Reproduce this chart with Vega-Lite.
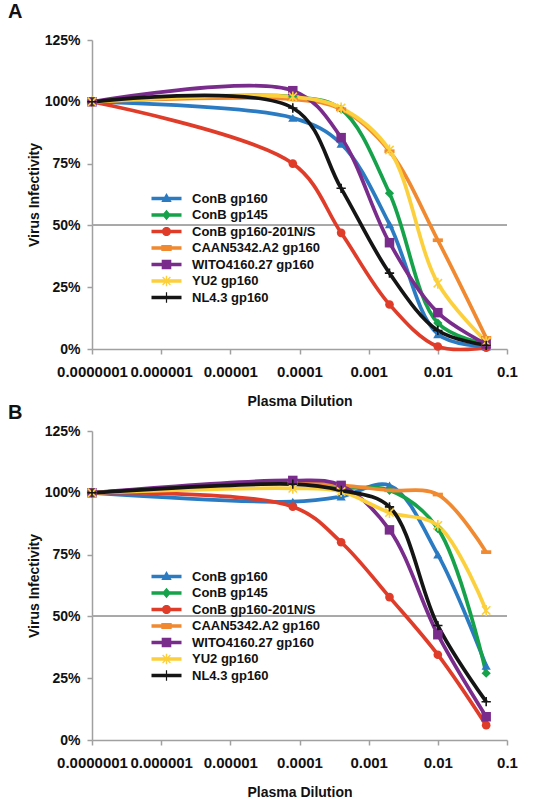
{
  "$schema": "https://vega.github.io/schema/vega-lite/v6.json",
  "background": "white",
  "padding": {"left": 8, "top": 2, "right": 5, "bottom": 2},
  "spacing": 82,
  "bounds": "flush",
  "datasets": {
    "A": [
      {"s": "ConB gp160", "d": 1e-7, "v": 100}, {"s": "ConB gp160", "d": 8e-5, "v": 93.5}, {"s": "ConB gp160", "d": 4e-4, "v": 83}, {"s": "ConB gp160", "d": 2e-3, "v": 50.5}, {"s": "ConB gp160", "d": 1e-2, "v": 6}, {"s": "ConB gp160", "d": 5e-2, "v": 1},
      {"s": "ConB gp145", "d": 1e-7, "v": 100}, {"s": "ConB gp145", "d": 8e-5, "v": 102}, {"s": "ConB gp145", "d": 4e-4, "v": 97}, {"s": "ConB gp145", "d": 2e-3, "v": 63}, {"s": "ConB gp145", "d": 1e-2, "v": 10.5}, {"s": "ConB gp145", "d": 5e-2, "v": 2},
      {"s": "ConB gp160-201N/S", "d": 1e-7, "v": 100}, {"s": "ConB gp160-201N/S", "d": 8e-5, "v": 75}, {"s": "ConB gp160-201N/S", "d": 4e-4, "v": 47}, {"s": "ConB gp160-201N/S", "d": 2e-3, "v": 18}, {"s": "ConB gp160-201N/S", "d": 1e-2, "v": 1}, {"s": "ConB gp160-201N/S", "d": 5e-2, "v": 0.5},
      {"s": "CAAN5342.A2 gp160", "d": 1e-7, "v": 100}, {"s": "CAAN5342.A2 gp160", "d": 8e-5, "v": 101}, {"s": "CAAN5342.A2 gp160", "d": 4e-4, "v": 97}, {"s": "CAAN5342.A2 gp160", "d": 2e-3, "v": 80}, {"s": "CAAN5342.A2 gp160", "d": 1e-2, "v": 44}, {"s": "CAAN5342.A2 gp160", "d": 5e-2, "v": 4.5},
      {"s": "WITO4160.27 gp160", "d": 1e-7, "v": 100}, {"s": "WITO4160.27 gp160", "d": 8e-5, "v": 104.5}, {"s": "WITO4160.27 gp160", "d": 4e-4, "v": 85.5}, {"s": "WITO4160.27 gp160", "d": 2e-3, "v": 43}, {"s": "WITO4160.27 gp160", "d": 1e-2, "v": 14.7}, {"s": "WITO4160.27 gp160", "d": 5e-2, "v": 2},
      {"s": "YU2 gp160", "d": 1e-7, "v": 100}, {"s": "YU2 gp160", "d": 8e-5, "v": 102}, {"s": "YU2 gp160", "d": 4e-4, "v": 97.5}, {"s": "YU2 gp160", "d": 2e-3, "v": 80.5}, {"s": "YU2 gp160", "d": 1e-2, "v": 26.6}, {"s": "YU2 gp160", "d": 5e-2, "v": 3},
      {"s": "NL4.3 gp160", "d": 1e-7, "v": 100}, {"s": "NL4.3 gp160", "d": 8e-5, "v": 97.5}, {"s": "NL4.3 gp160", "d": 4e-4, "v": 65}, {"s": "NL4.3 gp160", "d": 2e-3, "v": 30.7}, {"s": "NL4.3 gp160", "d": 1e-2, "v": 7.5}, {"s": "NL4.3 gp160", "d": 5e-2, "v": 1.5}
    ],
    "B": [
      {"s": "ConB gp160", "d": 1e-7, "v": 100}, {"s": "ConB gp160", "d": 8e-5, "v": 96.4}, {"s": "ConB gp160", "d": 4e-4, "v": 98.5}, {"s": "ConB gp160", "d": 2e-3, "v": 103}, {"s": "ConB gp160", "d": 1e-2, "v": 75}, {"s": "ConB gp160", "d": 5e-2, "v": 30},
      {"s": "ConB gp145", "d": 1e-7, "v": 100}, {"s": "ConB gp145", "d": 8e-5, "v": 104}, {"s": "ConB gp145", "d": 4e-4, "v": 102}, {"s": "ConB gp145", "d": 2e-3, "v": 101}, {"s": "ConB gp145", "d": 1e-2, "v": 85.5}, {"s": "ConB gp145", "d": 5e-2, "v": 27},
      {"s": "ConB gp160-201N/S", "d": 1e-7, "v": 100}, {"s": "ConB gp160-201N/S", "d": 8e-5, "v": 94.4}, {"s": "ConB gp160-201N/S", "d": 4e-4, "v": 80}, {"s": "ConB gp160-201N/S", "d": 2e-3, "v": 57.8}, {"s": "ConB gp160-201N/S", "d": 1e-2, "v": 34.5}, {"s": "ConB gp160-201N/S", "d": 5e-2, "v": 6},
      {"s": "CAAN5342.A2 gp160", "d": 1e-7, "v": 100}, {"s": "CAAN5342.A2 gp160", "d": 8e-5, "v": 104}, {"s": "CAAN5342.A2 gp160", "d": 4e-4, "v": 103}, {"s": "CAAN5342.A2 gp160", "d": 2e-3, "v": 101}, {"s": "CAAN5342.A2 gp160", "d": 1e-2, "v": 99.3}, {"s": "CAAN5342.A2 gp160", "d": 5e-2, "v": 76},
      {"s": "WITO4160.27 gp160", "d": 1e-7, "v": 100}, {"s": "WITO4160.27 gp160", "d": 8e-5, "v": 105}, {"s": "WITO4160.27 gp160", "d": 4e-4, "v": 103}, {"s": "WITO4160.27 gp160", "d": 2e-3, "v": 85}, {"s": "WITO4160.27 gp160", "d": 1e-2, "v": 42.6}, {"s": "WITO4160.27 gp160", "d": 5e-2, "v": 9.4},
      {"s": "YU2 gp160", "d": 1e-7, "v": 100}, {"s": "YU2 gp160", "d": 8e-5, "v": 101.8}, {"s": "YU2 gp160", "d": 4e-4, "v": 100.5}, {"s": "YU2 gp160", "d": 2e-3, "v": 92}, {"s": "YU2 gp160", "d": 1e-2, "v": 86.8}, {"s": "YU2 gp160", "d": 5e-2, "v": 52.4},
      {"s": "NL4.3 gp160", "d": 1e-7, "v": 100}, {"s": "NL4.3 gp160", "d": 8e-5, "v": 103.5}, {"s": "NL4.3 gp160", "d": 4e-4, "v": 101}, {"s": "NL4.3 gp160", "d": 2e-3, "v": 94.3}, {"s": "NL4.3 gp160", "d": 1e-2, "v": 46.3}, {"s": "NL4.3 gp160", "d": 5e-2, "v": 15.5}
    ]
  },
  "resolve": {"scale": {"color": "independent", "shape": "independent"}, "legend": {"color": "independent", "shape": "independent"}},
  "vconcat": [
    {
      "width": 415, "height": 309,
      "title": {"text": "A", "anchor": "start", "frame": "group", "dx": -84, "offset": -5, "baseline": "alphabetic", "fontSize": 20, "fontWeight": "bold", "color": "#111"},
      "data": {"name": "A"},
      "encoding": {"x": {"field": "d", "type": "quantitative"}, "y": {"field": "v", "type": "quantitative"}},
      "layer": [
        {"mark": {"type": "point", "filled": true, "opacity": 0},
         "encoding": {
           "color": {"field": "s", "type": "nominal", "legend": {"orient": "none", "legendX": 68, "legendY": 152},
             "scale": {"domain": ["ConB gp160", "ConB gp145", "ConB gp160-201N/S", "CAAN5342.A2 gp160", "WITO4160.27 gp160", "YU2 gp160", "NL4.3 gp160"], "range": ["#2b7bc3", "#16a24a", "#e03c2a", "#f0892f", "#7a2c8c", "#fcd03c", "#151515"]}},
           "shape": {"field": "s", "type": "nominal", "legend": {"orient": "none", "legendX": 68, "legendY": 152},
             "scale": {"domain": ["ConB gp160", "ConB gp145", "ConB gp160-201N/S", "CAAN5342.A2 gp160", "WITO4160.27 gp160", "YU2 gp160", "NL4.3 gp160"],
               "range": ["M-3.75,-0.45H3.75V0.45H-3.75ZM0,-1.4L1.3,0.9L-1.3,0.9Z", "M-3.75,-0.45H3.75V0.45H-3.75ZM0,-1.3L1.1,0L0,1.3L-1.1,0Z", "M-3.75,-0.45H3.75V0.45H-3.75ZM-1.15,0A1.15,1.15,0,1,1,1.15,0A1.15,1.15,0,1,1,-1.15,0Z", "M-3.75,-0.45H3.75V0.45H-3.75ZM-1.3,-0.75H1.3V0.75H-1.3Z", "M-3.75,-0.45H3.75V0.45H-3.75ZM-1.2,-1.2H1.2V1.2H-1.2Z", "M-3.75,-0.45H3.75V0.45H-3.75ZM-0.18,-1.3H0.18V1.3H-0.18ZM-1.1,-0.85L-0.85,-1.1L1.1,0.85L0.85,1.1ZM-1.1,0.85L0.85,-1.1L1.1,-0.85L-0.85,1.1Z", "M-3.75,-0.45H3.75V0.45H-3.75ZM-0.15,-1.3H0.15V1.3H-0.15Z"]}}
         }},
        {"mark": {"type": "rule", "color": "#a8a8a8", "strokeWidth": 1},
         "encoding": {"x": null, "y": {"datum": 50, "type": "quantitative", "scale": {"domain": [0, 125], "nice": false}, "axis": {"values": [0, 25, 50, 75, 100, 125], "labelExpr": "datum.value + '%'", "title": "Virus Infectivity", "orient": "left"}}}},
        {"mark": {"type": "line", "interpolate": "catmull-rom", "strokeWidth": 3.7},
         "encoding": {
           "x": {"field": "d", "type": "quantitative", "scale": {"type": "log", "domain": [1e-7, 0.1], "nice": false}, "axis": {"values": [1e-7, 1e-6, 1e-5, 1e-4, 1e-3, 1e-2, 0.1], "labelExpr": "format(datum.value, '.7~f')", "title": "Plasma Dilution"}},
           "y": {"field": "v", "type": "quantitative", "scale": {"domain": [0, 125], "nice": false}, "axis": {"values": [0, 25, 50, 75, 100, 125], "labelExpr": "datum.value + '%'", "title": "Virus Infectivity", "orient": "left"}},
           "color": {"field": "s", "type": "nominal"}
         }},
        {"transform": [{"filter": "datum.s === 'ConB gp160'"}], "mark": {"type": "point", "shape": "triangle-up", "filled": true, "color": "#2b7bc3", "size": 85, "opacity": 1}},
        {"transform": [{"filter": "datum.s === 'ConB gp145'"}], "mark": {"type": "point", "shape": "diamond", "filled": true, "color": "#16a24a", "size": 85, "opacity": 1}},
        {"transform": [{"filter": "datum.s === 'ConB gp160-201N/S'"}], "mark": {"type": "point", "shape": "circle", "filled": true, "color": "#e03c2a", "size": 75, "opacity": 1}},
        {"transform": [{"filter": "datum.s === 'CAAN5342.A2 gp160'"}], "mark": {"type": "point", "shape": "M-1.1,-0.4H1.1V0.4H-1.1Z", "filled": true, "color": "#f0892f", "size": 85, "opacity": 1}},
        {"transform": [{"filter": "datum.s === 'WITO4160.27 gp160'"}], "mark": {"type": "point", "shape": "square", "filled": true, "color": "#7a2c8c", "size": 90, "opacity": 1}},
        {"transform": [{"filter": "datum.s === 'YU2 gp160'"}], "mark": {"type": "point", "shape": "M-1,-1L1,1M-1,1L1,-1M0,-1.3V1.3", "filled": false, "color": "#fcd03c", "strokeWidth": 1.6, "size": 70, "opacity": 1}},
        {"transform": [{"filter": "datum.s === 'NL4.3 gp160'"}], "mark": {"type": "point", "shape": "M-1.2,0H1.2M0,-1.2V1.2", "filled": false, "color": "#151515", "strokeWidth": 1.6, "size": 60, "opacity": 1}}
      ]
    },
    {
      "width": 415, "height": 309,
      "title": {"text": "B", "anchor": "start", "frame": "group", "dx": -84, "offset": -15, "baseline": "alphabetic", "fontSize": 20, "fontWeight": "bold", "color": "#111"},
      "data": {"name": "B"},
      "encoding": {"x": {"field": "d", "type": "quantitative"}, "y": {"field": "v", "type": "quantitative"}},
      "layer": [
        {"mark": {"type": "point", "filled": true, "opacity": 0},
         "encoding": {
           "color": {"field": "s", "type": "nominal", "legend": {"orient": "none", "legendX": 68, "legendY": 139},
             "scale": {"domain": ["ConB gp160", "ConB gp145", "ConB gp160-201N/S", "CAAN5342.A2 gp160", "WITO4160.27 gp160", "YU2 gp160", "NL4.3 gp160"], "range": ["#2b7bc3", "#16a24a", "#e03c2a", "#f0892f", "#7a2c8c", "#fcd03c", "#151515"]}},
           "shape": {"field": "s", "type": "nominal", "legend": {"orient": "none", "legendX": 68, "legendY": 139},
             "scale": {"domain": ["ConB gp160", "ConB gp145", "ConB gp160-201N/S", "CAAN5342.A2 gp160", "WITO4160.27 gp160", "YU2 gp160", "NL4.3 gp160"],
               "range": ["M-3.75,-0.45H3.75V0.45H-3.75ZM0,-1.4L1.3,0.9L-1.3,0.9Z", "M-3.75,-0.45H3.75V0.45H-3.75ZM0,-1.3L1.1,0L0,1.3L-1.1,0Z", "M-3.75,-0.45H3.75V0.45H-3.75ZM-1.15,0A1.15,1.15,0,1,1,1.15,0A1.15,1.15,0,1,1,-1.15,0Z", "M-3.75,-0.45H3.75V0.45H-3.75ZM-1.3,-0.75H1.3V0.75H-1.3Z", "M-3.75,-0.45H3.75V0.45H-3.75ZM-1.2,-1.2H1.2V1.2H-1.2Z", "M-3.75,-0.45H3.75V0.45H-3.75ZM-0.18,-1.3H0.18V1.3H-0.18ZM-1.1,-0.85L-0.85,-1.1L1.1,0.85L0.85,1.1ZM-1.1,0.85L0.85,-1.1L1.1,-0.85L-0.85,1.1Z", "M-3.75,-0.45H3.75V0.45H-3.75ZM-0.15,-1.3H0.15V1.3H-0.15Z"]}}
         }},
        {"mark": {"type": "rule", "color": "#a8a8a8", "strokeWidth": 1},
         "encoding": {"x": null, "y": {"datum": 50, "type": "quantitative", "scale": {"domain": [0, 125], "nice": false}, "axis": {"values": [0, 25, 50, 75, 100, 125], "labelExpr": "datum.value + '%'", "title": "Virus Infectivity", "orient": "left"}}}},
        {"mark": {"type": "line", "interpolate": "catmull-rom", "strokeWidth": 3.7},
         "encoding": {
           "x": {"field": "d", "type": "quantitative", "scale": {"type": "log", "domain": [1e-7, 0.1], "nice": false}, "axis": {"values": [1e-7, 1e-6, 1e-5, 1e-4, 1e-3, 1e-2, 0.1], "labelExpr": "format(datum.value, '.7~f')", "title": "Plasma Dilution"}},
           "y": {"field": "v", "type": "quantitative", "scale": {"domain": [0, 125], "nice": false}, "axis": {"values": [0, 25, 50, 75, 100, 125], "labelExpr": "datum.value + '%'", "title": "Virus Infectivity", "orient": "left"}},
           "color": {"field": "s", "type": "nominal"}
         }},
        {"transform": [{"filter": "datum.s === 'ConB gp160'"}], "mark": {"type": "point", "shape": "triangle-up", "filled": true, "color": "#2b7bc3", "size": 85, "opacity": 1}},
        {"transform": [{"filter": "datum.s === 'ConB gp145'"}], "mark": {"type": "point", "shape": "diamond", "filled": true, "color": "#16a24a", "size": 85, "opacity": 1}},
        {"transform": [{"filter": "datum.s === 'ConB gp160-201N/S'"}], "mark": {"type": "point", "shape": "circle", "filled": true, "color": "#e03c2a", "size": 75, "opacity": 1}},
        {"transform": [{"filter": "datum.s === 'CAAN5342.A2 gp160'"}], "mark": {"type": "point", "shape": "M-1.1,-0.4H1.1V0.4H-1.1Z", "filled": true, "color": "#f0892f", "size": 85, "opacity": 1}},
        {"transform": [{"filter": "datum.s === 'WITO4160.27 gp160'"}], "mark": {"type": "point", "shape": "square", "filled": true, "color": "#7a2c8c", "size": 90, "opacity": 1}},
        {"transform": [{"filter": "datum.s === 'YU2 gp160'"}], "mark": {"type": "point", "shape": "M-1,-1L1,1M-1,1L1,-1M0,-1.3V1.3", "filled": false, "color": "#fcd03c", "strokeWidth": 1.6, "size": 70, "opacity": 1}},
        {"transform": [{"filter": "datum.s === 'NL4.3 gp160'"}], "mark": {"type": "point", "shape": "M-1.2,0H1.2M0,-1.2V1.2", "filled": false, "color": "#151515", "strokeWidth": 1.6, "size": 60, "opacity": 1}}
      ]
    }
  ],
  "config": {
    "font": "Liberation Sans",
    "view": {"stroke": null},
    "axis": {"grid": false, "domainColor": "#a0a0a0", "domainWidth": 1.5, "tickColor": "#a0a0a0", "tickWidth": 1.5, "tickSize": 5, "labelColor": "#111", "titleColor": "#111", "labelFontWeight": "bold", "titleFontWeight": "bold", "titleFontSize": 14, "labelFlush": false, "labelOverlap": false},
    "axisX": {"labelFontSize": 15, "labelPadding": 10, "titlePadding": 15},
    "axisY": {"labelFontSize": 14, "labelPadding": 7, "titlePadding": 3},
    "legend": {"title": null, "padding": 0, "symbolSize": 64, "symbolOpacity": 1, "labelFontSize": 13, "labelFontWeight": "bold", "labelColor": "#111", "labelOffset": 19, "rowPadding": 2.5, "labelLimit": 300, "symbolStrokeWidth": 0}
  }
}
